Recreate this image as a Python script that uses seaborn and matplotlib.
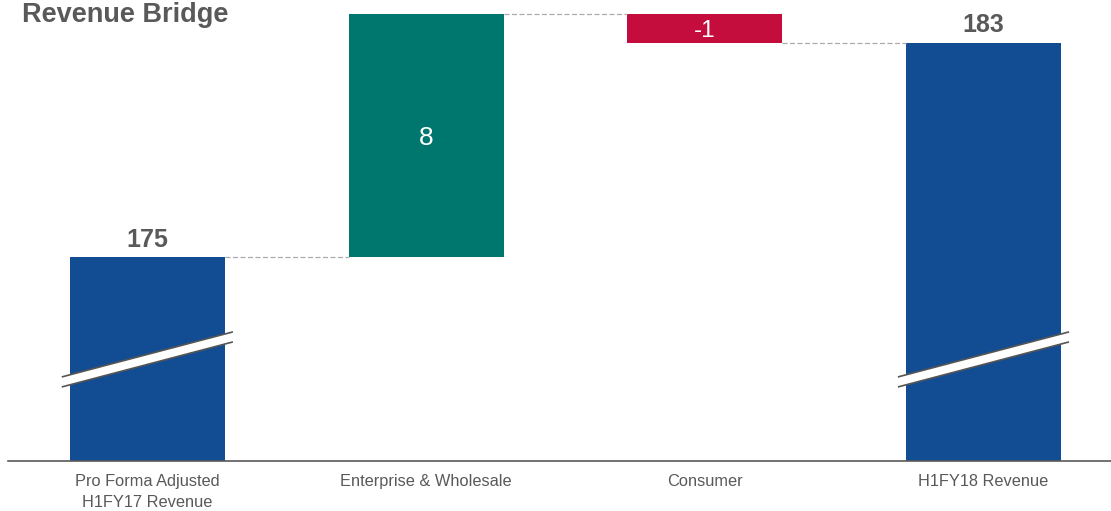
import matplotlib
matplotlib.use("Agg")
import matplotlib.pyplot as plt
import seaborn as sns

# Bridge steps: opening total, two movements, closing total
categories = ["Pro Forma Adjusted\nH1FY17 Revenue", "Enterprise & Wholesale",
              "Consumer", "H1FY18 Revenue"]
kinds = ["total", "delta", "delta", "total"]
values = [175.4, 8.4, -1.0, 182.8]
bar_colors = ["#124D94", "#00776E", "#C40D3C", "#124D94"]

TEXT = "#595959"
BAR_W = 0.556
BREAK_AT = 171.86        # level of the axis-break marks on the total bars

sns.set_theme(style="white")
plt.rcParams["font.family"] = ["Liberation Sans", "DejaVu Sans"]

W, H = 1111, 511
fig = plt.figure(figsize=(W / 100, H / 100), dpi=100)
ax = fig.add_axes([8 / W, 50 / H, 1 - 8 / W, 461 / H])

# running level of the bridge
bottoms, heights, levels = [], [], []
running = 0.0
for kind, v in zip(kinds, values):
    if kind == "total":
        bottoms.append(0.0)
        running = v
    else:
        bottoms.append(running)
        running += v
    heights.append(v)
    levels.append(running)

for cat, b, h, c in zip(categories, bottoms, heights, bar_colors):
    sns.barplot(x=[cat], y=[h], order=categories, bottom=b, color=c,
                saturation=1, width=BAR_W, linewidth=0, ax=ax)

ax.set_xlim(-0.5, 3.4575)
ax.set_ylim(168.35, 184.28)

# dashed connectors between consecutive bars
for i in range(len(categories) - 1):
    ax.plot([i + BAR_W / 2, i + 1 - BAR_W / 2], [levels[i], levels[i]],
            color="#ABABAB", lw=0.9, ls=(0, (4, 2)), zorder=1)

# axis-break marks across the total bars
half = 0.307
slope = 2.535
thick = 0.346
for i, kind in enumerate(kinds):
    if kind != "total":
        continue
    x0, x1 = i - half, i + half
    y0, y1 = BREAK_AT - slope * half, BREAK_AT + slope * half
    ax.fill([x0, x1, x1, x0],
            [y0 - thick / 2, y1 - thick / 2, y1 + thick / 2, y0 + thick / 2],
            color="white", lw=0, zorder=4)
    for s in (-1, 1):
        ax.plot([x0, x1], [y0 + s * thick / 2, y1 + s * thick / 2],
                color="#555555", lw=1.2, zorder=5, solid_capstyle="butt")

# value labels
for i, (kind, b, h, v) in enumerate(zip(kinds, bottoms, heights, values)):
    if kind == "total":
        ax.annotate(f"{v:.0f}", (i, b + h), xytext=(0, 7.5),
                    textcoords="offset points", ha="center", va="baseline",
                    fontsize=18, fontweight="bold", color=TEXT, zorder=6)
    else:
        size = 19 if abs(h) > 3 else 17.5
        ax.text(i, b + h / 2, f"{v:.0f}", ha="center", va="center_baseline",
                fontsize=size, color="white", zorder=6)

ax.set_xlabel("")
ax.set_ylabel("")
ax.set_yticks([])
ax.tick_params(axis="x", length=0, pad=9, labelsize=11.8, labelcolor=TEXT)
for lab in ax.get_xticklabels():
    lab.set_linespacing(1.5)
for side in ("top", "left", "right"):
    ax.spines[side].set_visible(False)
ax.spines["bottom"].set_color(TEXT)
ax.spines["bottom"].set_linewidth(1.2)
ax.spines["bottom"].set_zorder(7)

fig.text(22 / W, 1 - 21.5 / H, "Revenue Bridge", fontsize=19.5, fontweight="bold",
         color=TEXT, va="baseline", ha="left")

fig.savefig("out.png", dpi=100)
